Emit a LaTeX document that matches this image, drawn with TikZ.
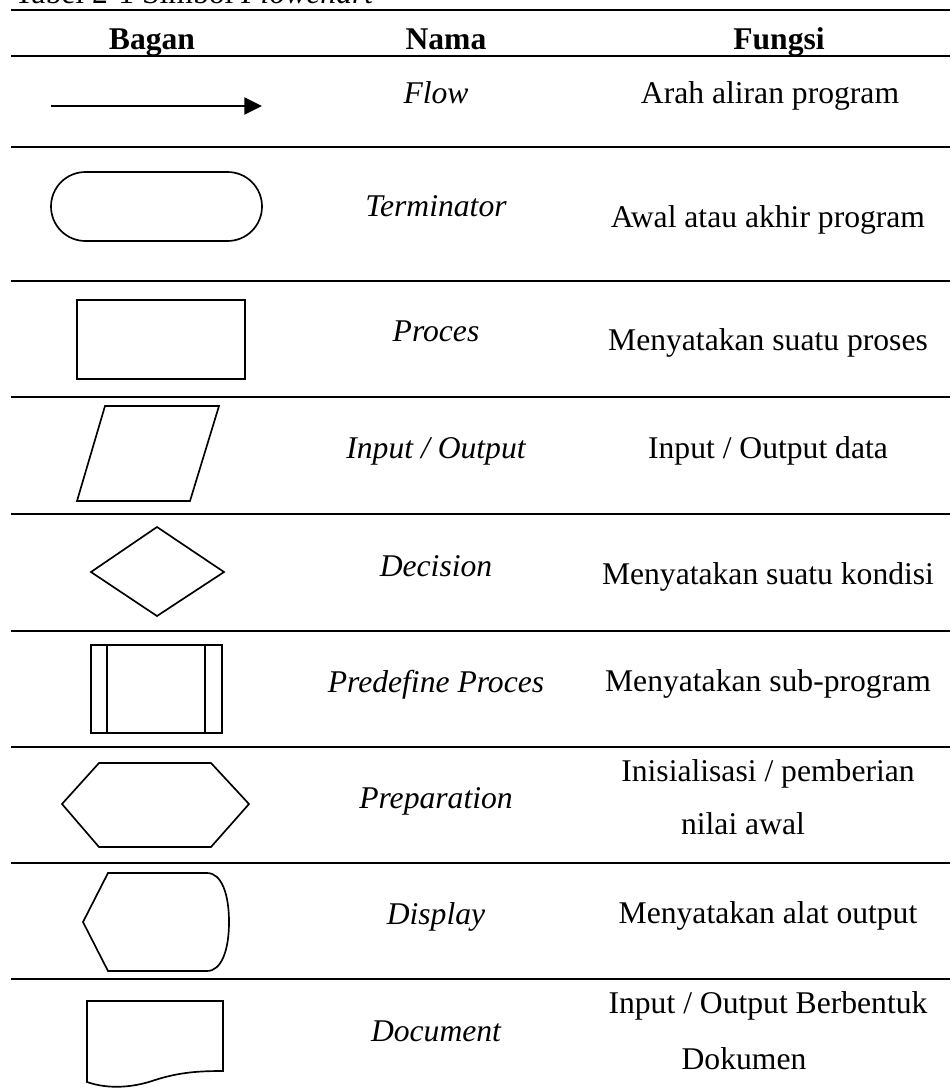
\documentclass[tikz,border=0pt]{standalone}
\usepackage{fontspec}
\setmainfont{Liberation Serif}
\usetikzlibrary{arrows.meta}
\tikzset{
	garis/.style={line width=1.15pt},
	simbol/.style={line width=0.95pt, line join=miter},
	teks/.style={anchor=base, inner sep=0pt, font=\fontsize{18pt}{22pt}\selectfont},
	nama/.style={teks, font=\fontsize{18pt}{22pt}\selectfont\itshape},
	judul/.style={teks, font=\fontsize{18pt}{22pt}\selectfont\bfseries}
}
\begin{document}
\begin{tikzpicture}[x=0.02cm, y=-0.02cm]
	\useasboundingbox (0,0) rectangle (950,1088);
	%judul tabel
	\node [teks, anchor=base west] (judultabel) at (14,3.5) {Tabel 2-1 Simbol \textit{Flowchart}};
	%garis tabel
	\foreach \y in {10,56,147,281,397,514,631,747,863,979}
		\draw [garis] (11,\y) -- (950,\y);
	%kepala tabel
	\node [judul] (bagan) at (152,49.5) {Bagan};
	\node [judul] (namakol) at (446,49.5) {Nama};
	\node [judul] (fungsikol) at (779,49.5) {Fungsi};

	%simbol
	\draw [line width=1.7pt] [-{Triangle[length=10pt,width=9.5pt]}] (51,106) -- (262,106);
	\draw [simbol] [rounded corners=19.6pt] (51,172) rectangle (262,241);
	\draw [simbol] (77,300) rectangle (245,379);
	\draw [simbol] (105,406) -- (219,406) -- (190,501) -- (77,501) -- cycle;
	\draw [simbol] (157,527) -- (224,572) -- (157,616) -- (91,572) -- cycle;
	\draw [simbol] (91,645) rectangle (222,733);
	\draw [simbol] (107,645) -- (107,733);
	\draw [simbol] (205,645) -- (205,733);
	\draw [simbol] (62,804) -- (99,763) -- (211,763) -- (249,804) -- (211,847) -- (99,847) -- cycle;
	\draw [simbol] (108,873) -- (207,873) .. controls (222,873) and (229,895) .. (229,922) .. controls (229,949) and (222,971) .. (207,971) -- (108,971) -- (83,922) -- cycle;
	\draw [simbol] (87,1082) -- (87,1001) -- (223,1001) -- (223,1071) .. controls (200,1071) and (180,1072) .. (155,1080) .. controls (135,1087) and (110,1090) .. (87,1082) -- cycle;

	%nama simbol
	\node [nama] (flow) at (436,104) {Flow};
	\node [nama] (terminator) at (436,216) {Terminator};
	\node [nama] (proces) at (436,341) {Proces};
	\node [nama] (inout) at (436,458) {Input / Output};
	\node [nama] (decision) at (436,576) {Decision};
	\node [nama] (predefine) at (436,692) {Predefine Proces};
	\node [nama] (preparation) at (436,808) {Preparation};
	\node [nama] (display) at (436,924) {Display};
	\node [nama] (document) at (436,1041) {Document};

	%fungsi simbol
	\node [teks] (fflow) at (770,103.5) {Arah aliran program};
	\node [teks] (fterminator) at (768,227) {Awal atau akhir program};
	\node [teks] (fproces) at (768,350) {Menyatakan suatu proses};
	\node [teks] (finout) at (768,458) {Input / Output data};
	\node [teks] (fdecision) at (768,584) {Menyatakan suatu kondisi};
	\node [teks] (fpredefine) at (768,691) {Menyatakan sub-program};
	\node [teks] (fpreparation) at (768,781) {Inisialisasi / pemberian};
	\node [teks] (fpreparationb) at (743,834) {nilai awal};
	\node [teks] (fdisplay) at (768,923) {Menyatakan alat output};
	\node [teks] (fdocument) at (768,1013) {Input / Output Berbentuk};
	\node [teks] (fdocumentb) at (744,1069) {Dokumen};
\end{tikzpicture}
\end{document}
